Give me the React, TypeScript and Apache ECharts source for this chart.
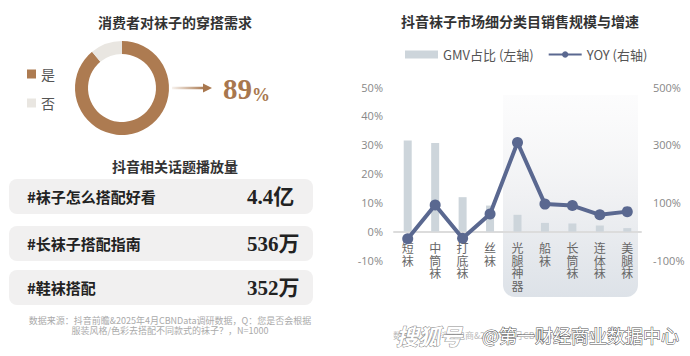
import React, { useEffect, useRef } from "react";
import * as echarts from "echarts";

const demandLabels = ["是", "否"];
const demandValues = [89, 11];
const demandHeadline = "89";
const topics = ["#袜子怎么搭配好看", "#长袜子搭配指南", "#鞋袜搭配"];
const topicViews = ["4.4亿", "536万", "352万"];
const categories = ["短袜", "中筒袜", "打底袜", "丝袜", "光腿神器", "船袜", "长筒袜", "连体袜", "美腿袜"];
const gmvShare = [31.5, 30.6, 11.9, 9.0, 5.8, 3.0, 2.8, 2.1, 1.2];
const yoyGrowth = [-25, 92, -23, 61, 308, 95, 90, 58, 69];
const rightTickLabels = [-100, 100, 300, 500];
const seriesNames = ["GMV占比 (左轴)", "YOY (右轴)"];

const CJK = "'Noto Sans CJK SC', 'Noto Sans', sans-serif";
const SERIF = "'Liberation Serif', 'DejaVu Serif', 'Noto Sans CJK SC', serif";

export default function App() {
  const ref = useRef<HTMLDivElement>(null);
  useEffect(() => {
    if (!ref.current) return;
    const chart = echarts.init(ref.current, undefined, { renderer: "svg" });
    const rowTops = [179, 226, 270];
    const rowGraphics: any[] = [];
    topics.forEach((t, i) => {
      rowGraphics.push({
        type: "rect",
        shape: { x: 9, y: rowTops[i], width: 304, height: 35, r: 8 },
        style: { fill: "#f1f0f0" },
      });
      rowGraphics.push({
        type: "text",
        x: 27,
        y: rowTops[i] + 17.5,
        style: { text: t, font: `bold 15px ${CJK}`, fill: "#222", verticalAlign: "middle" },
      });
      rowGraphics.push({
        type: "text",
        x: 247,
        y: rowTops[i] + 18,
        style: { text: topicViews[i], font: `bold 21px ${SERIF}`, fill: "#222", verticalAlign: "middle" },
      });
    });

    chart.setOption({
      animation: false,
      title: [
        {
          text: "消费者对袜子的穿搭需求",
          left: 170,
          top: 10,
          textAlign: "center",
          textStyle: { fontFamily: CJK, fontSize: 14, fontWeight: "bold", color: "#333" },
        },
        {
          text: "抖音相关话题播放量",
          left: 170,
          top: 154,
          textAlign: "center",
          textStyle: { fontFamily: CJK, fontSize: 14, fontWeight: "bold", color: "#333" },
        },
        {
          text: "抖音袜子市场细分类目销售规模与增速",
          left: 515,
          top: 9,
          textAlign: "center",
          textStyle: { fontFamily: CJK, fontSize: 14, fontWeight: "bold", color: "#333" },
        },
      ],
      legend: [
        {
          data: demandLabels,
          orient: "vertical",
          left: 22,
          top: 62,
          itemWidth: 9,
          itemHeight: 9,
          itemGap: 15,
          icon: "rect",
          selectedMode: false,
          textStyle: { fontFamily: CJK, fontSize: 14, color: "#555" },
        },
        {
          data: [
            { name: seriesNames[0], icon: "rect" },
            { name: seriesNames[1] },
          ],
          left: 400,
          top: 43,
          itemWidth: 33,
          itemHeight: 8,
          itemGap: 14,
          selectedMode: false,
          textStyle: { fontFamily: CJK, fontSize: 13, color: "#555" },
        },
      ],
      grid: { left: 394, right: 49, top: 87, bottom: 95.5, containLabel: false },
      xAxis: {
        type: "category",
        data: categories,
        axisLine: { show: true, onZero: true, lineStyle: { color: "#dcdcdc", width: 2 } },
        axisTick: { show: false },
        axisLabel: {
          interval: 0,
          margin: -19,
          fontFamily: CJK,
          fontSize: 12,
          lineHeight: 12.5,
          color: "#666",
          verticalAlign: "top",
          formatter: (v: string) => v.split("").join("\n"),
        },
      },
      yAxis: [
        {
          type: "value",
          min: -10,
          max: 50,
          interval: 10,
          axisLine: { show: false },
          axisTick: { show: false },
          splitLine: { show: false },
          axisLabel: {
            margin: 11,
            fontFamily: "'Open Sans', 'Noto Sans', sans-serif",
            fontSize: 11,
            color: "#888",
            formatter: (v: number) => `${v}%`,
          },
        },
        {
          type: "value",
          min: -100,
          max: 500,
          interval: 100,
          axisLine: { show: false },
          axisTick: { show: false },
          splitLine: { show: false },
          axisLabel: {
            margin: 12,
            fontFamily: "'Open Sans', 'Noto Sans', sans-serif",
            fontSize: 11,
            color: "#888",
            formatter: (v: number) => (rightTickLabels.includes(v) ? `${v}%` : ""),
          },
        },
      ],
      series: [
        {
          type: "pie",
          center: [122, 88],
          radius: [34, 47],
          startAngle: 90,
          clockwise: true,
          label: { show: false },
          labelLine: { show: false },
          emphasis: { disabled: true },
          silent: true,
          itemStyle: { borderWidth: 0 },
          data: demandLabels.map((n, i) => ({
            name: n,
            value: demandValues[i],
            itemStyle: { color: i === 0 ? "#ad7b51" : "#e9e6e1" },
          })),
        },
        {
          name: seriesNames[0],
          type: "bar",
          data: gmvShare,
          barWidth: 8,
          yAxisIndex: 0,
          itemStyle: { color: "#cdd5db" },
          z: 3,
        },
        {
          name: seriesNames[1],
          type: "line",
          data: yoyGrowth,
          yAxisIndex: 1,
          symbol: "circle",
          symbolSize: 11,
          lineStyle: { color: "#5a6890", width: 4 },
          itemStyle: { color: "#5a6890" },
          z: 4,
        },
      ],
      graphic: [
        {
          type: "rect",
          z: -10,
          shape: { x: 503, y: 95, width: 135, height: 202, r: [0, 0, 12, 12] },
          style: {
            fill: new echarts.graphic.LinearGradient(0, 0, 0, 1, [
              { offset: 0, color: "rgba(250,250,251,0.6)" },
              { offset: 0.5, color: "#f0f1f3" },
              { offset: 1, color: "#dde2e8" },
            ]),
          },
        },
        {
          type: "rect",
          shape: { x: 172, y: 86.8, width: 33, height: 2.4 },
          style: {
            fill: new echarts.graphic.LinearGradient(0, 0, 1, 0, [
              { offset: 0, color: "rgba(173,123,81,0.1)" },
              { offset: 1, color: "#a8774e" },
            ]),
          },
        },
        {
          type: "polygon",
          shape: { points: [[203, 83.5], [212, 88], [203, 92.5]] },
          style: { fill: "#a8774e" },
        },
        {
          type: "text",
          x: 223,
          y: 89,
          style: {
            text: `{a|${demandHeadline}}{b|%}`,
            verticalAlign: "middle",
            rich: {
              a: { font: `bold 29px ${SERIF}`, fill: "#a8774e", verticalAlign: "bottom" },
              b: { font: `bold 18px ${SERIF}`, fill: "#a8774e", verticalAlign: "bottom" },
            },
          },
        },
        ...rowGraphics,
        {
          type: "text",
          x: 170,
          y: 325,
          style: {
            text: "数据来源：抖音前瞻&2025年4月CBNData调研数据，Q：您是否会根据\n服装风格/色彩去搭配不同款式的袜子？，N=1000",
            font: `9px ${CJK}`,
            fill: "#aaa",
            align: "center",
            verticalAlign: "middle",
            lineHeight: 10,
          },
        },
        {
          type: "text",
          x: 393,
          y: 335,
          style: {
            text: "数据来源：抖音电商&2025年4月CBNData调研数据",
            font: `9px ${CJK}`,
            fill: "#bbb",
            verticalAlign: "middle",
          },
        },
        {
          type: "text",
          x: 396,
          y: 335,
          z: 20,
          style: {
            text: "搜狐号",
            font: `italic bold 22px ${CJK}`,
            fill: "#fff",
            stroke: "#888",
            lineWidth: 1,
            verticalAlign: "middle",
          },
        },
        {
          type: "text",
          x: 482,
          y: 335,
          z: 20,
          style: {
            text: "@第一财经商业数据中心",
            font: `18px ${CJK}`,
            fill: "#fff",
            stroke: "#555",
            lineWidth: 1,
            verticalAlign: "middle",
          },
        },
      ],
    });
    return () => chart.dispose();
  }, []);
  return (
    <div
      ref={ref}
      style={{ position: "fixed", left: 0, top: 0, width: 690, height: 356, background: "#fff" }}
    />
  );
}
